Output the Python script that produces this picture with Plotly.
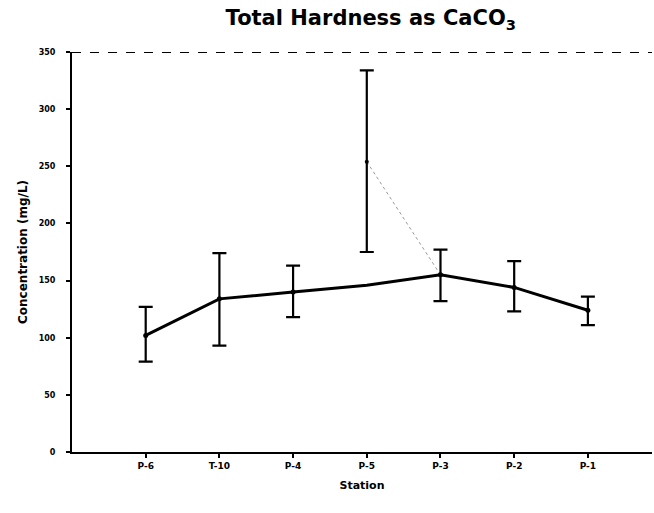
import plotly.graph_objects as go

stations = ["P-6", "T-10", "P-4", "P-5", "P-3", "P-2", "P-1"]
mean_line = [102, 134, 140, 146, 155, 144, 124]
err_stations = ["P-6", "T-10", "P-4", "P-3", "P-2", "P-1"]
err_mean = [102, 134, 140, 155, 144, 124]
err_hi = [127, 174, 163, 177, 167, 136]
err_lo = [79, 93, 118, 132, 123, 111]
p5_station = ["P-5"]
p5_mean = [254]
p5_hi = [334]
p5_lo = [175]
link_stations = ["P-5", "P-3"]
link_vals = [254, 155]
yticks = [0, 50, 100, 150, 200, 250, 300, 350]

fig = go.Figure()
fig.add_trace(go.Scatter(x=link_stations, y=link_vals, mode="lines",
                         line=dict(color="#999", width=1, dash="dot"), hoverinfo="skip"))
fig.add_trace(go.Scatter(x=stations, y=mean_line, mode="lines",
                         line=dict(color="black", width=3)))
fig.add_trace(go.Scatter(
    x=err_stations, y=err_mean, mode="markers",
    marker=dict(color="black", size=5),
    error_y=dict(type="data", symmetric=False,
                 array=[h - m for h, m in zip(err_hi, err_mean)],
                 arrayminus=[m - l for m, l in zip(err_mean, err_lo)],
                 color="black", thickness=2.2, width=7)))
fig.add_trace(go.Scatter(
    x=p5_station, y=p5_mean, mode="markers",
    marker=dict(color="black", size=4),
    error_y=dict(type="data", symmetric=False,
                 array=[h - m for h, m in zip(p5_hi, p5_mean)],
                 arrayminus=[m - l for m, l in zip(p5_mean, p5_lo)],
                 color="black", thickness=2.2, width=7)))

fig.add_shape(type="line", xref="paper", yref="y", x0=0, x1=1, y0=350, y1=350,
              line=dict(color="black", width=2, dash="dash"))

fig.update_layout(
    width=654, height=513,
    margin=dict(l=72, r=2, t=52, b=61),
    paper_bgcolor="white", plot_bgcolor="white",
    showlegend=False,
    font=dict(family="DejaVu Sans", color="black"),
    title=dict(text="<b>Total Hardness as CaCO<sub>3</sub></b>",
               x=0.567, xanchor="center", y=0.965, yanchor="middle",
               font=dict(size=21, family="DejaVu Sans")),
    xaxis=dict(type="category", categoryorder="array", categoryarray=stations,
               range=[-1, 6.87], showgrid=False, zeroline=False,
               showline=True, linecolor="black", linewidth=2,
               ticks="outside", ticklen=4, tickwidth=1.5, tickcolor="black",
               tickfont=dict(size=9, family="DejaVu Sans", weight="bold"),
               title=dict(text="<b>Station</b>", font=dict(size=11), standoff=12)),
    yaxis=dict(range=[0, 350], tickvals=yticks, showgrid=False, zeroline=False,
               showline=True, linecolor="black", linewidth=2,
               ticks="outside", ticklen=4, tickwidth=1.5, tickcolor="black",
               ticklabelstandoff=9,
               tickfont=dict(size=8, family="DejaVu Sans", weight="bold"),
               title=dict(text="<b>Concentration (mg/L)</b>", font=dict(size=12), standoff=8)),
)
fig.write_html("out.html")
